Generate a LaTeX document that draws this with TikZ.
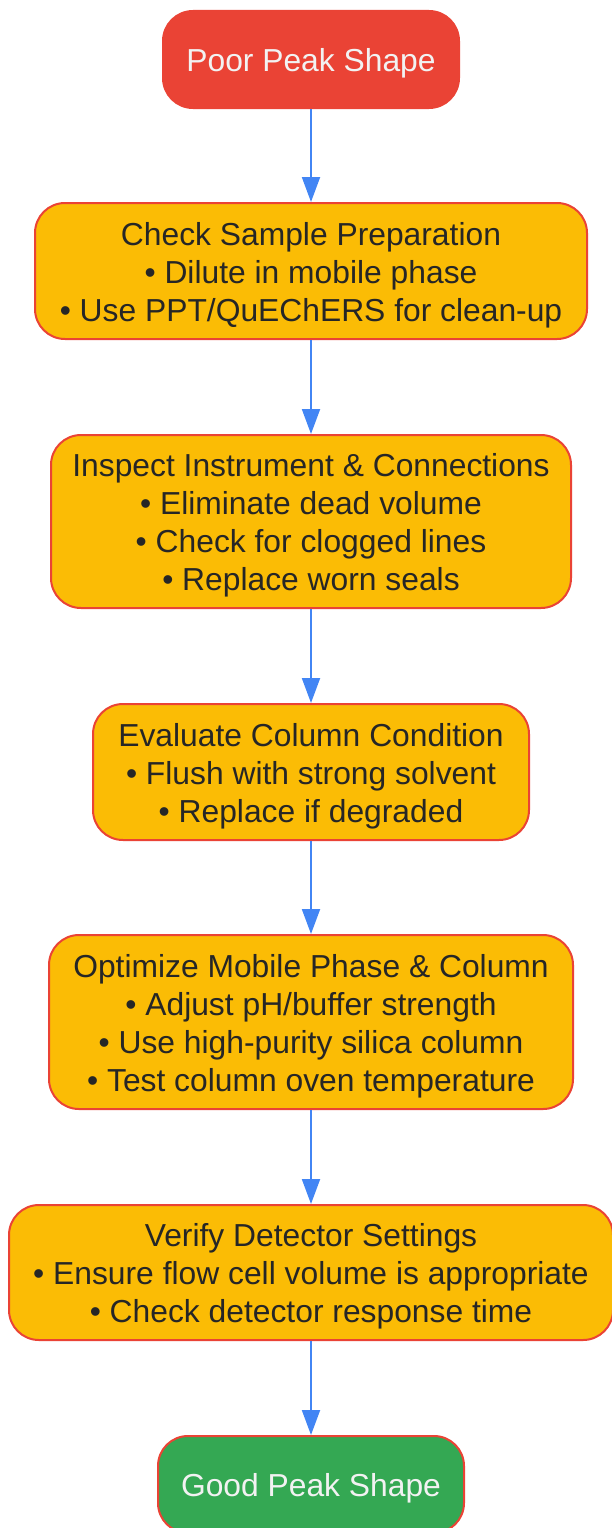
\documentclass[tikz,border=0pt]{standalone}
\usepackage{fontspec}
\setmainfont{Liberation Sans}
\usetikzlibrary{arrows.meta}
\definecolor{pkred}{HTML}{EA4335}
\definecolor{pkyellow}{HTML}{FBBC05}
\definecolor{pkgreen}{HTML}{34A853}
\definecolor{pkblue}{HTML}{4285F4}
\definecolor{pktext}{HTML}{262626}
\begin{document}
\begin{tikzpicture}[x=1pt,y=-1pt,
    box/.style={draw=pkred,line width=2pt,rounded corners=30pt,fill=pkyellow,inner sep=0pt},
    boxtext/.style={text=pktext,align=center,inner sep=0pt,font=\fontsize{31.8}{38}\selectfont},
    endtext/.style={boxtext,text=white!95!black},
    flow/.style={draw=pkblue,line width=2pt,-{Triangle[length=25pt,width=18pt]}}]
  \useasboundingbox (0,0) rectangle (612,1528);
  \node[box,fill=pkred,minimum width=296pt,minimum height=97pt] (poor) at (311,59.5) {};
  \node[endtext] (poor-t) at ([yshift=-4pt]poor.center) {Poor Peak Shape};
  \node[box,minimum width=552pt,minimum height=136pt] (sample) at (311,271) {};
  \node[boxtext] (sample-t) at ([yshift=-4pt]sample.center)
    {Check Sample Preparation\\ • Dilute in mobile phase\\ • Use PPT/QuEChERS for clean-up};
  \node[box,minimum width=520pt,minimum height=173pt] (instr) at (311,521.5) {};
  \node[boxtext] (instr-t) at ([yshift=-4pt]instr.center)
    {Inspect Instrument \& Connections\\ • Eliminate dead volume\\ • Check for clogged lines\\ • Replace worn seals};
  \node[box,minimum width=436pt,minimum height=136pt] (column) at (311,772) {};
  \node[boxtext] (column-t) at ([yshift=-4pt]column.center)
    {Evaluate Column Condition\\ • Flush with strong solvent\\ • Replace if degraded};
  \node[box,minimum width=524pt,minimum height=174pt] (mobile) at (311,1022) {};
  \node[boxtext] (mobile-t) at ([yshift=-4pt]mobile.center)
    {Optimize Mobile Phase \& Column\\ • Adjust pH/buffer strength\\ • Use high-purity silica column\\ • Test column oven temperature};
  \node[box,minimum width=604pt,minimum height=135pt] (detector) at (311,1272.5) {};
  \node[boxtext] (detector-t) at ([yshift=-4pt]detector.center)
    {Verify Detector Settings\\ • Ensure flow cell volume is appropriate\\ • Check detector response time};
  \node[box,fill=pkgreen,minimum width=306pt,minimum height=97pt] (good) at (311,1484.5) {};
  \node[endtext] (good-t) at ([yshift=-4pt]good.center) {Good Peak Shape};
  \draw[flow] (poor) -- (sample);
  \draw[flow] (sample) -- (instr);
  \draw[flow] (instr) -- (column);
  \draw[flow] (column) -- (mobile);
  \draw[flow] (mobile) -- (detector);
  \draw[flow] (detector) -- (good);
\end{tikzpicture}
\end{document}
